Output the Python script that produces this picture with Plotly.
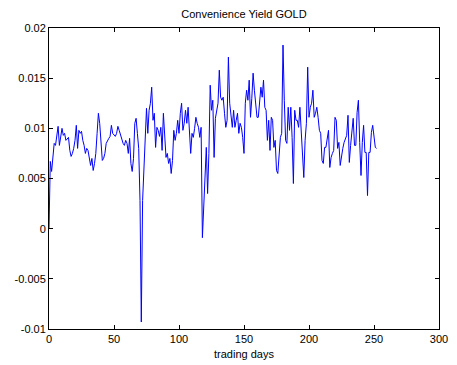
import plotly.graph_objects as go

days = list(range(253))
yield_vals = [
    0.0000, 0.0067, 0.0057, 0.0072, 0.0085, 0.0083, 0.0092, 0.0102, 0.0083, 0.0093,
    0.0100, 0.0093, 0.0095, 0.0088, 0.0090, 0.0091, 0.0078, 0.0072, 0.0075, 0.0080,
    0.0088, 0.0103, 0.0080, 0.0098, 0.0095, 0.0097, 0.0088, 0.0083, 0.0075, 0.0080,
    0.0078, 0.0072, 0.0063, 0.0070, 0.0058, 0.0065, 0.0075, 0.0095, 0.0115, 0.0105,
    0.0085, 0.0068, 0.0070, 0.0075, 0.0085, 0.0088, 0.0090, 0.0092, 0.0103, 0.0095,
    0.0093, 0.0092, 0.0095, 0.0102, 0.0098, 0.0093, 0.0090, 0.0085, 0.0083, 0.0088,
    0.0085, 0.0075, 0.0090, 0.0065, 0.0057, 0.0070, 0.0105, 0.0110, 0.0095, 0.0080,
    0.0028, -0.0093, 0.0028, 0.0058, 0.0081, 0.0120, 0.0095, 0.0118, 0.0125, 0.0141,
    0.0108, 0.0115, 0.0081, 0.0101, 0.0098, 0.0092, 0.0101, 0.0078, 0.0115, 0.0091,
    0.0071, 0.0075, 0.0065, 0.0070, 0.0055, 0.0068, 0.0098, 0.0088, 0.0095, 0.0108,
    0.0095, 0.0115, 0.0125, 0.0098, 0.0105, 0.0118, 0.0105, 0.0121, 0.0090, 0.0075,
    0.0095, 0.0091, 0.0100, 0.0111, 0.0105, 0.0101, 0.0091, 0.0101, -0.0009, 0.0028,
    0.0065, 0.0081, 0.0035, 0.0075, 0.0143, 0.0118, 0.0128, 0.0071, 0.0110, 0.0118,
    0.0125, 0.0158, 0.0131, 0.0128, 0.0131, 0.0115, 0.0101, 0.0108, 0.0171, 0.0125,
    0.0110, 0.0101, 0.0118, 0.0101, 0.0108, 0.0115, 0.0095, 0.0105, 0.0101, 0.0091,
    0.0075, 0.0125, 0.0138, 0.0128, 0.0148, 0.0111, 0.0130, 0.0155, 0.0138, 0.0121,
    0.0111, 0.0111, 0.0125, 0.0141, 0.0131, 0.0148, 0.0121, 0.0118, 0.0088, 0.0108,
    0.0078, 0.0111, 0.0108, 0.0081, 0.0088, 0.0058, 0.0055, 0.0070, 0.0091, 0.0095,
    0.0183, 0.0128, 0.0088, 0.0085, 0.0121, 0.0098, 0.0121, 0.0091, 0.0045, 0.0118,
    0.0108, 0.0108, 0.0101, 0.0121, 0.0098, 0.0085, 0.0051, 0.0088, 0.0105, 0.0161,
    0.0111, 0.0121, 0.0125, 0.0138, 0.0111, 0.0115, 0.0121, 0.0111, 0.0098, 0.0095,
    0.0068, 0.0065, 0.0081, 0.0081, 0.0090, 0.0098, 0.0061, 0.0071, 0.0075, 0.0078,
    0.0111, 0.0108, 0.0080, 0.0086, 0.0063, 0.0073, 0.0080, 0.0086, 0.0090, 0.0093,
    0.0113, 0.0066, 0.0083, 0.0095, 0.0110, 0.0083, 0.0083, 0.0116, 0.0128, 0.0086,
    0.0053, 0.0086, 0.0103, 0.0076, 0.0076, 0.0033, 0.0076, 0.0076, 0.0096, 0.0103,
    0.0090, 0.0081, 0.0080,
]

x_tickvals = [0, 50, 100, 150, 200, 250, 300]
x_ticktext = ["0", "50", "100", "150", "200", "250", "300"]
y_tickvals = [-0.01, -0.005, 0, 0.005, 0.01, 0.015, 0.02]
y_ticktext = ["-0.01", "-0.005", "0", "0.005", "0.01", "0.015", "0.02"]

font_family = "Liberation Sans, Arial, sans-serif"

fig = go.Figure()
fig.add_trace(go.Scatter(
    x=days, y=yield_vals, mode="lines",
    line=dict(color="#0000ff", width=1),
    showlegend=False,
))

axis_common = dict(
    showline=True, linecolor="black", linewidth=1, mirror="allticks",
    ticks="inside", ticklen=4, tickcolor="black", showgrid=False, zeroline=False,
    automargin=False,
    tickfont=dict(family=font_family, size=11, color="black"),
)

fig.update_layout(
    width=457, height=365,
    margin=dict(l=49, r=18, t=28, b=36),
    paper_bgcolor="white", plot_bgcolor="white",
    title=dict(text="Convenience Yield GOLD", x=0.5, xref="paper", xanchor="center",
               y=1 - 14 / 365, yref="container", yanchor="middle",
               font=dict(family=font_family, size=11, color="black")),
    xaxis=dict(range=[0, 300], tickvals=x_tickvals, ticktext=x_ticktext,
               title=dict(text="trading days", standoff=6,
                          font=dict(family=font_family, size=11, color="black")),
               **axis_common),
    yaxis=dict(range=[-0.01, 0.02], tickvals=y_tickvals, ticktext=y_ticktext,
               **axis_common),
)

fig.write_html("out.html")
